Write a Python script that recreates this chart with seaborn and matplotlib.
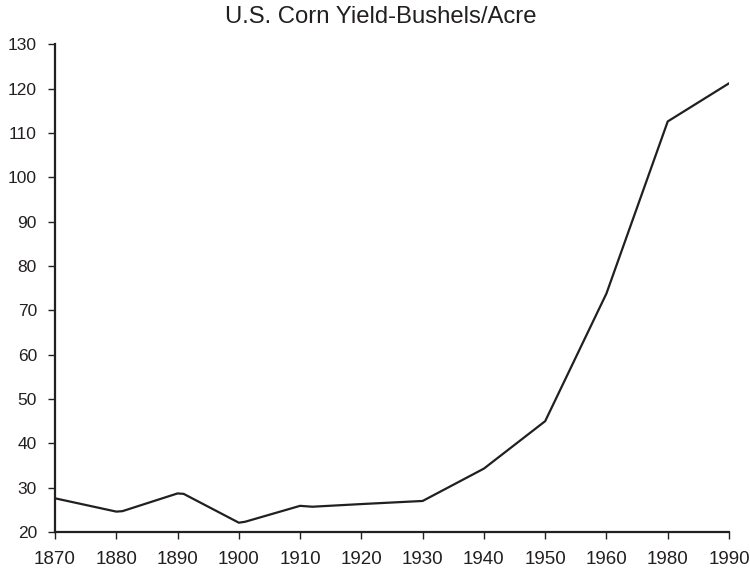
import numpy as np
import pandas as pd
import matplotlib
matplotlib.use("Agg")
import matplotlib.pyplot as plt
import seaborn as sns

# Data
tick_years = [1870, 1880, 1890, 1900, 1910, 1920, 1930, 1940, 1950, 1960, 1980, 1990]
tick_labels = [str(y) for y in tick_years]
years = [1870, 1880, 1881, 1890, 1891, 1900, 1901, 1910, 1912, 1920, 1930, 1940, 1950, 1960, 1980, 1990]
yields = [27.6, 24.6, 24.7, 28.7, 28.6, 22.1, 22.3, 25.9, 25.7, 26.3, 27.0, 34.3, 45.0, 73.8, 112.6, 121.2]
y_ticks = list(range(20, 131, 10))
title = "U.S. Corn Yield-Bushels/Acre"

sns.set_theme(style="ticks")
plt.rcParams['font.family'] = ['Liberation Sans', 'DejaVu Sans']

ink = "#231f20"
# categorical x axis (1960 -> 1980 has the same spacing as the decades)
pos = np.interp(years, tick_years, np.arange(len(tick_years)))
df = pd.DataFrame({"pos": pos, "yield": yields})

fig = plt.figure(figsize=(7.5, 5.68), dpi=100)
ax = fig.add_axes([55/750, 1 - 532/568, (729 - 55)/750, (532 - 44.3)/568])
sns.lineplot(data=df, x="pos", y="yield", ax=ax, color=ink, linewidth=1.6, sort=False)

ax.set_xlim(0, len(tick_years) - 1)
ax.set_ylim(20, 130)
ax.set_xticks(np.arange(len(tick_years)))
ax.set_xticklabels(tick_labels)
ax.set_yticks(y_ticks)
ax.set_xlabel("")
ax.set_ylabel("")
for s in ["top", "right"]:
    ax.spines[s].set_visible(False)
for s in ["left", "bottom"]:
    ax.spines[s].set_linewidth(1.6)
    ax.spines[s].set_color(ink)
ax.tick_params(axis="x", direction="out", length=5, width=1, color=ink, labelsize=13.5, pad=9, labelcolor=ink)
ax.tick_params(axis="y", direction="out", length=5, width=1, color=ink, labelsize=12.5, pad=8, labelcolor=ink)

fig.text(381/750, 1 - 17/568, title, ha="center", va="center", fontsize=17.2, color=ink)

fig.savefig("out.png", dpi=100)
